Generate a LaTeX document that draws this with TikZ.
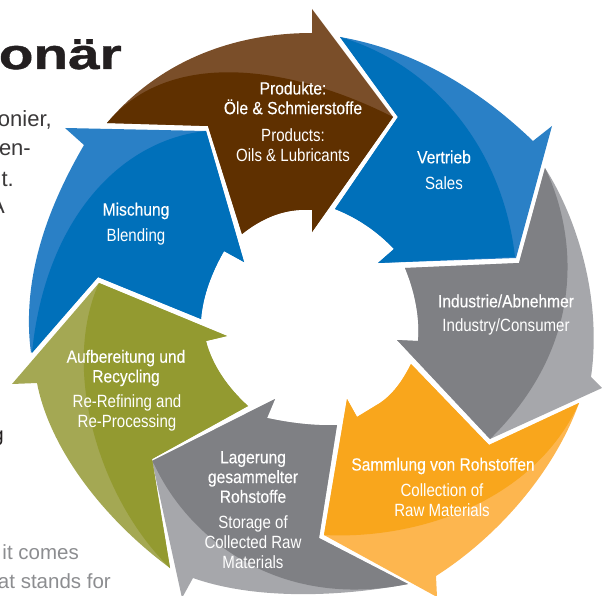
\documentclass[tikz,border=0pt]{standalone}
\usepackage{fontspec}
\setmainfont{Liberation Sans}
\newfontfamily\lblfont[FakeStretch=0.85]{Liberation Sans}
\newfontfamily\gerfont[FakeStretch=0.88,FakeBold=0.25]{Liberation Sans}
\newfontfamily\headfont[FakeStretch=1.32,FakeBold=1]{Liberation Sans Bold}
\definecolor{brownD}{HTML}{5F3000}
\definecolor{brownL}{HTML}{7A4E29}
\definecolor{blueD}{HTML}{0070BA}
\definecolor{blueL}{HTML}{2A80C6}
\definecolor{grayD}{HTML}{7F8084}
\definecolor{grayL}{HTML}{A6A7AB}
\definecolor{orangeD}{HTML}{F9A61C}
\definecolor{orangeL}{HTML}{FDB64F}
\definecolor{oliveD}{HTML}{939A30}
\definecolor{oliveL}{HTML}{A4A853}
\definecolor{titleC}{HTML}{231F20}
\definecolor{bodyC}{HTML}{3A3839}
\definecolor{fadeC}{HTML}{8C8D90}
\tikzset{
  de/.style={text=white,align=center,inner sep=0pt,font=\gerfont\fontsize{17.7}{19.7}\selectfont},
  en/.style={text=white,align=center,inner sep=0pt,font=\lblfont\fontsize{17.7}{19.7}\selectfont},
  bodytext/.style={anchor=base east,inner sep=0pt,text=bodyC,font=\fontsize{22}{26}\selectfont},
  fadetext/.style={anchor=base east,inner sep=0pt,text=fadeC,font=\fontsize{20.5}{24}\selectfont}
}
\begin{document}
\begin{tikzpicture}[x=1pt,y=-1pt]
\useasboundingbox (0,0) rectangle (602,596);
\clip (0,0) rectangle (602,596);
% side text
\node[anchor=base east,inner sep=0pt,text=titleC,font=\headfont\fontsize{43}{46}\selectfont] (title) at (122,69) {onär};
\node[bodytext] (b1) at (52,127) {onier,};
\node[bodytext] (b2) at (31,156) {en-};
\node[bodytext] (b3) at (14,186) {t.};
\node[bodytext] (b4) at (5,213) {A};
\node[anchor=base east,inner sep=0pt,text=titleC,font=\fontsize{20}{24}\selectfont] (b5) at (4,441) {g};
\node[fadetext] (f1) at (79,559) {it comes};
\node[fadetext] (f2) at (111,588) {at stands for};
% Produkte
\fill[brownL] (107,123) .. controls (160,60) and (235,33) .. (312,33) -- (312,9) -- (393,117) -- (312,232) -- (312,210) .. controls (285,208) and (262,218) .. (242,234) -- (208,126) -- cycle;
\fill[brownD] (107,123) .. controls (170,48) and (290,65) .. (393,117) -- (312,232) -- (312,210) .. controls (285,208) and (262,218) .. (242,234) -- (208,126) -- cycle;
% Vertrieb
\fill[blueL] (340,37) .. controls (415,50) and (480,90) .. (533,141) -- (552,126) -- (516,258) -- (378,263) -- (394,249) .. controls (378,232) and (358,218) .. (335,209) -- (398,117) -- cycle;
\fill[blueD] (340,37) .. controls (435,65) and (503,150) .. (515,257) -- (378,263) -- (394,249) .. controls (378,232) and (358,218) .. (335,209) -- (398,117) -- cycle;
% Industrie
\fill[grayL] (545,168) .. controls (578,220) and (602,300) .. (591,377) -- (602,388) -- (490,439) -- (397,340) -- (418,341) .. controls (420,318) and (415,292) .. (405,268) -- (519,263) -- cycle;
\fill[grayD] (545,168) .. controls (575,230) and (590,340) .. (491,438) -- (490,439) -- (397,340) -- (418,341) .. controls (420,318) and (415,292) .. (405,268) -- (519,263) -- cycle;
% Sammlung
\fill[orangeL] (579,403) -- (489,445) -- (411,364) .. controls (402,382) and (392,395) .. (380,403) -- (357,417) -- (347,399) -- (324,535) -- (437,597) -- (436,576) .. controls (500,535) and (555,470) .. (579,403) -- cycle;
\fill[orangeD] (579,403) -- (489,445) -- (411,364) .. controls (402,382) and (392,395) .. (380,403) -- (357,417) -- (347,399) -- (324,535) .. controls (420,540) and (535,500) .. (579,403) -- cycle;
% Lagerung
\fill[grayL] (152,461) -- (275,399) -- (267,418) .. controls (290,423) and (315,426) .. (337,425) -- (319,538) -- (408,584) .. controls (340,597) and (255,600) .. (193,578) -- (182,598) -- cycle;
\fill[grayD] (155,466) -- (152,461) -- (275,399) -- (267,418) .. controls (290,423) and (315,426) .. (337,425) -- (319,538) -- (408,584) .. controls (280,610) and (190,540) .. (155,466) -- cycle;
% Aufbereitung
\fill[oliveL] (99,283) -- (227,336) -- (206,341) .. controls (212,365) and (228,388) .. (248,406) -- (152,459) -- (170,568) .. controls (105,520) and (50,450) .. (37,383) -- (12,384) -- cycle;
\fill[oliveD] (99,283) -- (227,336) -- (206,341) .. controls (212,365) and (228,388) .. (248,406) -- (152,459) -- (170,568) .. controls (100,500) and (60,370) .. (99,283) -- cycle;
% Mischung
\fill[blueL] (206,131) -- (65,128) -- (84,145) .. controls (55,195) and (20,270) .. (31,353) -- (98,277) -- (201,319) .. controls (203,295) and (212,272) .. (224,251) -- (244,262) -- cycle;
\fill[blueD] (206,131) .. controls (120,140) and (45,220) .. (32,353) -- (98,277) -- (201,319) .. controls (203,295) and (212,272) .. (224,251) -- (244,262) -- cycle;
% labels
\node[de] (n1) at (293,98) {Produkte:\\Öle \& Schmierstoffe};
\node[en] (n2) at (293,145) {Products:\\Oils \& Lubricants};
\node[de] (n3) at (444,157) {Vertrieb};
\node[en] (n4) at (444,183) {Sales};
\node[de] (n5) at (506,301) {Industrie/Abnehmer};
\node[en] (n6) at (506,327) {Industry/Consumer};
\node[de] (n7) at (443,466) {Sammlung von Rohstoffen};
\node[en] (n8) at (442,500) {Collection of\\Raw Materials};
\node[de] (n9) at (253,477) {Lagerung\\gesammelter\\Rohstoffe};
\node[en] (n10) at (253,542) {Storage of\\Collected Raw\\Materials};
\node[de] (n11) at (126,368) {Aufbereitung und\\Recycling};
\node[en] (n12) at (127,413) {Re-Refining and\\Re-Processing};
\node[de] (n13) at (136,211) {Mischung};
\node[en] (n14) at (136,237) {Blending};
\end{tikzpicture}
\end{document}
